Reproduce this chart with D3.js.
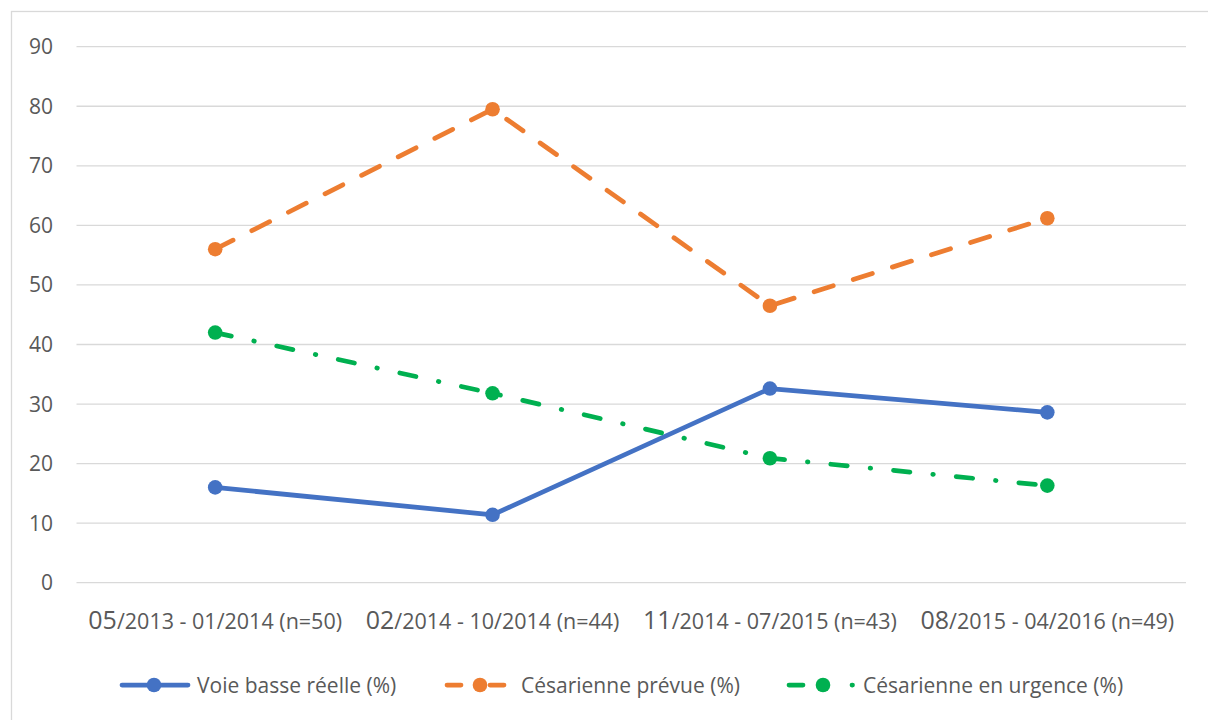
<!DOCTYPE html>
<html>
<head>
<meta charset="utf-8">
<script src="https://cdn.jsdelivr.net/npm/d3@7"></script>
<style>
    body { margin: 0; background: #fff; }
    svg { display: block; }
    text { font-family: "Open Sans", "Noto Sans", sans-serif; fill: #595959; }
</style>
</head>
<body>
<div id="chart"></div>
<script>
// categories (periods) and series
var periods = ["05/2013 - 01/2014 (n=50)", "02/2014 - 10/2014 (n=44)", "11/2014 - 07/2015 (n=43)", "08/2015 - 04/2016 (n=49)"];
var voieBasse = [16.0, 11.4, 32.6, 28.6];
var cesaPrevue = [56.0, 79.5, 46.5, 61.2];
var cesaUrgence = [42.0, 31.8, 20.9, 16.3];
var seriesNames = ["Voie basse réelle (%)", "Césarienne prévue (%)", "Césarienne en urgence (%)"];
var yTicks = [0, 10, 20, 30, 40, 50, 60, 70, 80, 90];

var width = 1208,
    height = 720;

var colors = ["#4472C4", "#ED7D31", "#00B050"],
    dashes = [null, "20,21", "16.5,23,0.5,23"];

var svg = d3.select("#chart")
    .append("svg")
    .attr("width", width)
    .attr("height", height);

// chart frame
svg.append("rect")
    .attr("x", 11.5)
    .attr("y", 11.5)
    .attr("width", 1210)
    .attr("height", 730)
    .style("fill", "none")
    .style("stroke", "#d9d9d9")
    .style("stroke-width", 1.3);

var x = d3.scalePoint()
    .domain(periods)
    .range([76.5, 1186])
    .padding(0.5);

var y = d3.scaleLinear()
    .domain([0, 90])
    .range([582.7, 46.7]);

// grid lines
svg.append("g")
    .selectAll("line")
    .data(yTicks)
    .enter().append("line")
    .attr("x1", 76.5)
    .attr("x2", 1186)
    .attr("y1", function(d) { return y(d); })
    .attr("y2", function(d) { return y(d); })
    .style("stroke", "#d9d9d9")
    .style("stroke-width", 1.3);

// y labels
svg.append("g")
    .selectAll("text")
    .data(yTicks)
    .enter().append("text")
    .attr("x", 53)
    .attr("y", function(d) { return y(d); })
    .attr("dy", "0.36em")
    .attr("text-anchor", "end")
    .style("font-size", "21px")
    .text(function(d) { return d; });

// x labels (the first two digits come out bigger in the original)
var xl = svg.append("g")
    .selectAll("text")
    .data(periods)
    .enter().append("text")
    .attr("x", function(d) { return x(d); })
    .attr("y", 629)
    .attr("text-anchor", "middle")
    .style("font-size", "21.5px");

xl.append("tspan")
    .style("font-size", "25px")
    .text(function(d) { return d.slice(0, 2); });
xl.append("tspan")
    .text(function(d) { return d.slice(2); });

var allSeries = [voieBasse, cesaPrevue, cesaUrgence];

var line = d3.line()
    .x(function(d, i) { return x(periods[i]); })
    .y(function(d) { return y(d); });

allSeries.forEach(function(values, k) {
    var g = svg.append("g");
    g.append("path")
        .datum(values)
        .attr("d", line)
        .style("fill", "none")
        .style("stroke", colors[k])
        .style("stroke-width", 4.75)
        .style("stroke-linecap", "round")
        .style("stroke-linejoin", "round")
        .style("stroke-dasharray", dashes[k]);
    g.selectAll("circle")
        .data(values)
        .enter().append("circle")
        .attr("cx", function(d, i) { return x(periods[i]); })
        .attr("cy", function(d) { return y(d); })
        .attr("r", 7.3)
        .style("fill", colors[k]);
});

// legend: each key has its own sample line, marker and label spot
var legendKeys = [
    { x1: 122, x2: 188, dash: null, cx: 154, tx: 197 },
    { x1: 447, x2: 504, dash: "14,29", cx: 480, tx: 521 },
    { x1: 789, x2: 853, dash: "14,49,0.5,50", cx: 823, tx: 863 }
];

var legend = svg.append("g")
    .selectAll("g")
    .data(seriesNames)
    .enter().append("g")
    .attr("transform", "translate(0,685)");

legend.append("line")
    .attr("x1", function(d, i) { return legendKeys[i].x1; })
    .attr("x2", function(d, i) { return legendKeys[i].x2; })
    .style("stroke", function(d, i) { return colors[i]; })
    .style("stroke-width", 4.75)
    .style("stroke-linecap", "round")
    .style("stroke-dasharray", function(d, i) { return legendKeys[i].dash; });

legend.append("circle")
    .attr("cx", function(d, i) { return legendKeys[i].cx; })
    .attr("r", 7.3)
    .style("fill", function(d, i) { return colors[i]; });

legend.append("text")
    .attr("x", function(d, i) { return legendKeys[i].tx; })
    .attr("dy", "0.36em")
    .style("font-size", "21px")
    .text(function(d) { return d; });
</script>
</body>
</html>
